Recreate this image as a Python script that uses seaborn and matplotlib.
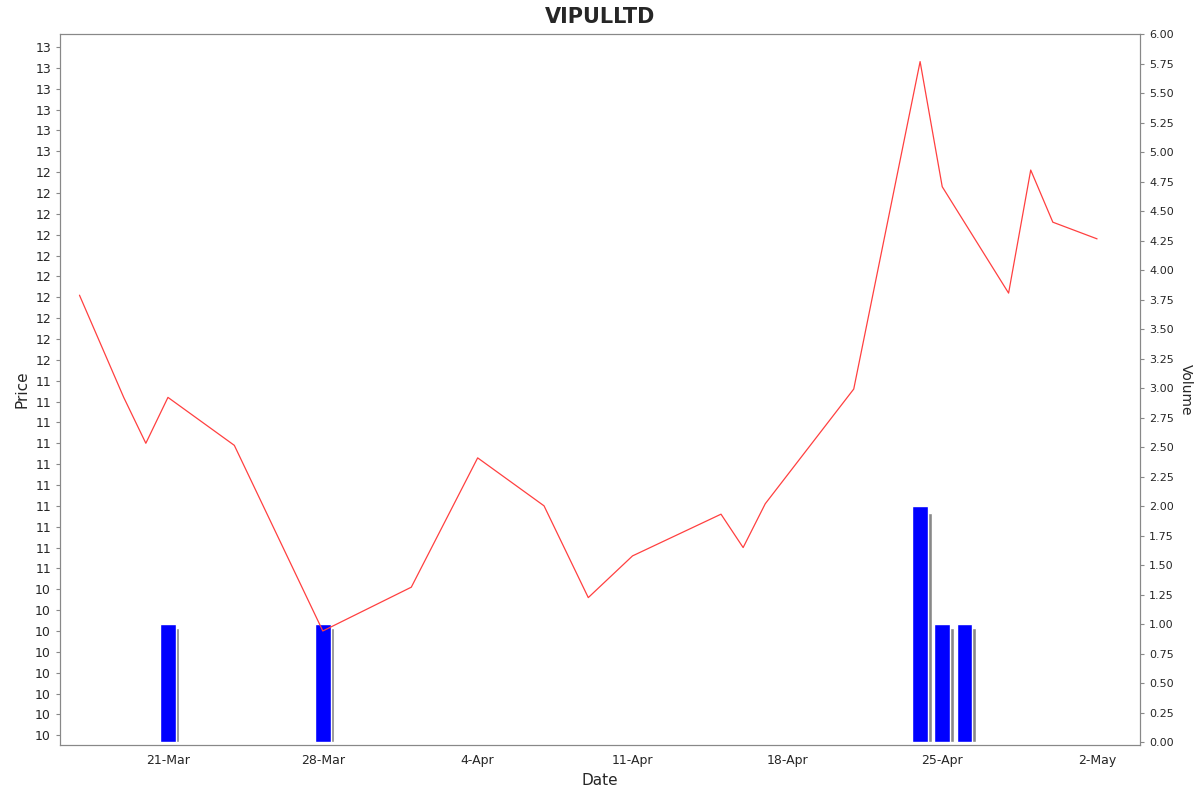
import numpy as np
import pandas as pd
import seaborn as sns
import matplotlib
matplotlib.use("Agg")
import matplotlib.pyplot as plt
import matplotlib.dates as mdates

# price series
price_dates = ["2024-03-17", "2024-03-19", "2024-03-20", "2024-03-21", "2024-03-24",
               "2024-03-28", "2024-04-01", "2024-04-04", "2024-04-07", "2024-04-09",
               "2024-04-11", "2024-04-15", "2024-04-16", "2024-04-17", "2024-04-21",
               "2024-04-24", "2024-04-25", "2024-04-28", "2024-04-29", "2024-04-30",
               "2024-05-02"]
prices = [11.81, 11.32, 11.10, 11.32, 11.09, 10.20, 10.41, 11.03, 10.80, 10.36,
          10.56, 10.76, 10.60, 10.81, 11.36, 12.93, 12.33, 11.82, 12.41, 12.16, 12.08]

# volume series
vol_dates = ["2024-03-21", "2024-03-28", "2024-04-24", "2024-04-25", "2024-04-26"]
volumes = [1, 1, 2, 1, 1]

price_ticks = [round(9.7 + 0.1 * i, 1) for i in range(34)]
price_labels = [str(int(round(v + 1e-9))) if v < 10.5 else ("11" if v < 11.5 else ("12" if v < 12.5 else "13")) for v in price_ticks]
x_ticks = ["2024-03-21", "2024-03-28", "2024-04-04", "2024-04-11", "2024-04-18", "2024-04-25", "2024-05-02"]
x_labels = ["21-Mar", "28-Mar", "4-Apr", "11-Apr", "18-Apr", "25-Apr", "2-May"]

df = pd.DataFrame({"Date": pd.to_datetime(price_dates), "Price": prices})
vd = pd.to_datetime(vol_dates)

sns.set_style("white")
plt.rcParams["font.family"] = ["DejaVu Sans"]

fig = plt.figure(figsize=(12, 7.92), dpi=100)
ax = fig.add_axes([0.05, 0.059, 0.9, 0.898])
ax2 = ax.twinx()

# volume bars with grey shadow
shadow = pd.Timedelta(hours=4)
ax2.bar(vd + shadow, [v * 0.97 for v in volumes], width=0.7, color="#888888", zorder=1)
ax2.bar(vd, volumes, width=0.7, color="#0000ff", edgecolor="white", linewidth=1, zorder=2)
ax2.set_ylim(-0.025, 6.0)
ax2.set_yticks(np.arange(0, 6.01, 0.25))
ax2.set_yticklabels([f"{v:.2f}" for v in np.arange(0, 6.01, 0.25)], fontsize=8)
ax2.set_ylabel("Volume", rotation=270, labelpad=14, fontsize=10)

ax.set_zorder(ax2.get_zorder() + 1)
ax.patch.set_visible(False)
sns.lineplot(data=df, x="Date", y="Price", ax=ax, color="#ff4040", linewidth=0.9)
ax.set_ylim(9.652, 13.062)
ax.set_yticks(price_ticks)
ax.set_yticklabels(price_labels, fontsize=9)
ax.set_xlim(pd.Timestamp("2024-03-21") - pd.Timedelta(days=4.88),
            pd.Timestamp("2024-05-02") + pd.Timedelta(days=1.94))
ax.set_xticks(pd.to_datetime(x_ticks))
ax.set_xticklabels(x_labels, fontsize=9)
ax.set_xlabel("Date", fontsize=11)
ax.set_ylabel("Price", fontsize=11)
ax.set_title("VIPULLTD", fontsize=15, fontweight="bold", pad=8)

for a in (ax, ax2):
    for s in a.spines.values():
        s.set_color("#888888")
        s.set_linewidth(0.8)
    a.tick_params(length=3, color="#888888")

fig.savefig("out.png", dpi=100)
